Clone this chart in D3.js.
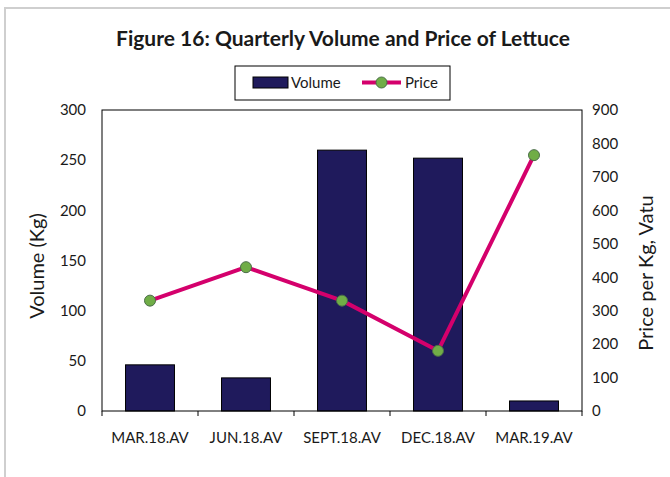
<!DOCTYPE html>
<html lang="en">
<head>
    <meta charset="UTF-8">
    <title>Figure 16</title>
    <script src="https://d3js.org/d3.v7.min.js"></script>
    <style>
        body { margin: 0; background: #fff; }
        text { font-family: Lato, "Open Sans", sans-serif; fill: #1a1a1a; }
    </style>
</head>
<body>
    <div id="chart"></div>
    <script>
        "use strict";

        // data
        let categories = ['MAR.18.AV', 'JUN.18.AV', 'SEPT.18.AV', 'DEC.18.AV', 'MAR.19.AV'];
        let volume = [46, 33, 260, 252, 10];
        let price = [330, 430, 330, 180, 765];
        let volumeTicks = [0, 50, 100, 150, 200, 250, 300];
        let priceTicks = [0, 100, 200, 300, 400, 500, 600, 700, 800, 900];

        let svgWidth = 670;
        let svgHeight = 477;
        let plot = {left: 102, right: 582, top: 110, bottom: 411};

        let barColour = '#1f1a5c';
        let lineColour = '#d4006c';
        let markerFill = '#70ad47';
        let markerStroke = '#4a6e48';

        function translate(x, y){
            return 'translate(' + x + ', ' + y + ')';
        }

        let svg = d3.select('#chart')
                    .append('svg')
                    .attr('width', svgWidth)
                    .attr('height', svgHeight);

        // outer chart border
        svg.append('rect')
            .attr('x', 5).attr('y', 8)
            .attr('width', 700).attr('height', 500)
            .attr('fill', 'none')
            .attr('stroke', '#cfcfcf')
            .attr('stroke-width', 2);

        let x = d3.scaleBand()
                    .domain(categories)
                    .range([plot.left, plot.right])
                    .paddingInner(0.49)
                    .paddingOuter(0.245);
        let step = x.step();
        let yLeft = d3.scaleLinear().domain([0, 300]).range([plot.bottom, plot.top]);
        let yRight = d3.scaleLinear().domain([0, 900]).range([plot.bottom, plot.top]);

        // title
        svg.append('text')
            .attr('x', 343).attr('y', 46)
            .attr('text-anchor', 'middle')
            .style('font-size', '21px')
            .style('font-weight', 'bold')
            .text('Figure 16: Quarterly Volume and Price of Lettuce');

        // bars
        svg.selectAll('rect.bar')
            .data(categories)
            .enter()
            .append('rect')
            .attr('class', 'bar')
            .attr('x', d => x(d))
            .attr('y', (d, i) => yLeft(volume[i]))
            .attr('width', x.bandwidth())
            .attr('height', (d, i) => plot.bottom - yLeft(volume[i]))
            .attr('fill', barColour)
            .attr('stroke', '#000')
            .attr('stroke-width', 1);

        // plot frame
        svg.append('rect')
            .attr('x', plot.left).attr('y', plot.top)
            .attr('width', plot.right - plot.left)
            .attr('height', plot.bottom - plot.top)
            .attr('fill', 'none')
            .attr('stroke', '#000')
            .attr('stroke-width', 1);

        // left axis
        let leftAxis = svg.append('g')
            .attr('transform', translate(plot.left, 0))
            .call(d3.axisLeft(yLeft).tickValues(volumeTicks).tickSize(0).tickPadding(16));
        leftAxis.select('.domain').remove();
        leftAxis.selectAll('text').style('font-size', '15px').attr('fill', '#1a1a1a');

        // right axis
        let rightAxis = svg.append('g')
            .attr('transform', translate(plot.right, 0))
            .call(d3.axisRight(yRight).tickValues(priceTicks).tickSize(0).tickPadding(10));
        rightAxis.select('.domain').remove();
        rightAxis.selectAll('text').style('font-size', '15px').attr('fill', '#1a1a1a');

        // bottom axis: ticks at category boundaries
        let bottomAxis = svg.append('g')
            .attr('transform', translate(0, plot.bottom))
            .call(d3.axisBottom(x).tickSize(0).tickPadding(21));
        bottomAxis.select('.domain').remove();
        bottomAxis.selectAll('text').style('font-size', '15px').attr('fill', '#1a1a1a');
        bottomAxis.selectAll('line.boundary')
            .data(d3.range(categories.length + 1))
            .enter()
            .append('line')
            .attr('class', 'boundary')
            .attr('x1', i => plot.left + i * step)
            .attr('x2', i => plot.left + i * step)
            .attr('y1', 0).attr('y2', 5)
            .attr('stroke', '#000');

        // axis titles
        svg.append('text')
            .attr('transform', translate(44, 266) + ' rotate(-90)')
            .attr('text-anchor', 'middle')
            .style('font-size', '20px')
            .text('Volume (Kg)');
        svg.append('text')
            .attr('transform', translate(653, 273) + ' rotate(-90)')
            .attr('text-anchor', 'middle')
            .style('font-size', '20px')
            .text('Price per Kg, Vatu');

        // price line
        let cx = d => x(d) + x.bandwidth() / 2;
        let line = d3.line()
                    .x((d, i) => cx(categories[i]))
                    .y(d => yRight(d));
        svg.append('path')
            .datum(price)
            .attr('d', line)
            .attr('fill', 'none')
            .attr('stroke', lineColour)
            .attr('stroke-width', 4)
            .attr('stroke-linejoin', 'round');
        svg.selectAll('circle.point')
            .data(price)
            .enter()
            .append('circle')
            .attr('class', 'point')
            .attr('cx', (d, i) => cx(categories[i]))
            .attr('cy', d => yRight(d))
            .attr('r', 5.5)
            .attr('fill', markerFill)
            .attr('stroke', markerStroke)
            .attr('stroke-width', 1);

        // legend
        let legend = svg.append('g').attr('transform', translate(235, 66));
        legend.append('rect')
            .attr('width', 215).attr('height', 34)
            .attr('fill', '#fff').attr('stroke', '#000');
        legend.append('rect')
            .attr('x', 18).attr('y', 11).attr('width', 35).attr('height', 11)
            .attr('fill', barColour).attr('stroke', '#000');
        legend.append('text')
            .attr('x', 56).attr('y', 22)
            .style('font-size', '15px')
            .text('Volume');
        legend.append('line')
            .attr('x1', 127).attr('x2', 166).attr('y1', 16.5).attr('y2', 16.5)
            .attr('stroke', lineColour).attr('stroke-width', 4);
        legend.append('circle')
            .attr('cx', 146.5).attr('cy', 16.5).attr('r', 5.5)
            .attr('fill', markerFill).attr('stroke', markerStroke);
        legend.append('text')
            .attr('x', 170).attr('y', 22)
            .style('font-size', '15px')
            .text('Price');
    </script>
</body>
</html>
